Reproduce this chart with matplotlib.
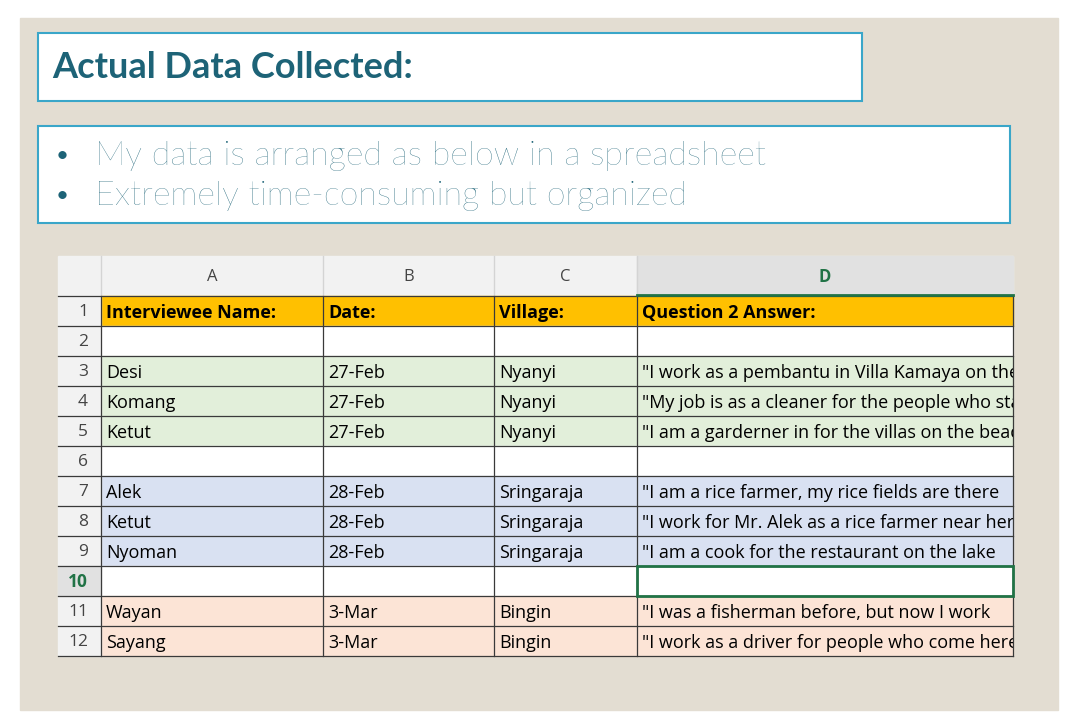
import matplotlib
matplotlib.use('Agg')
import matplotlib.pyplot as plt
from matplotlib.patches import Rectangle

# ----------------------------------------------------------------
# Data
# ----------------------------------------------------------------
col_letters = ['A', 'B', 'C', 'D']
headers = ['Interviewee Name:', 'Date:', 'Village:', 'Question 2 Answer:']
names = ['', 'Desi', 'Komang', 'Ketut', '', 'Alek', 'Ketut', 'Nyoman', '', 'Wayan', 'Sayang']
dates = ['', '27-Feb', '27-Feb', '27-Feb', '', '28-Feb', '28-Feb', '28-Feb', '', '3-Mar', '3-Mar']
villages = ['', 'Nyanyi', 'Nyanyi', 'Nyanyi', '', 'Sringaraja', 'Sringaraja', 'Sringaraja',
            '', 'Bingin', 'Bingin']
answers = ['',
           '"I work as a pembantu in Villa Kamaya on the coast',
           '"My job is as a cleaner for the people who stay',
           '"I am a garderner in for the villas on the beach',
           '',
           '"I am a rice farmer, my rice fields are there',
           '"I work for Mr. Alek as a rice farmer near here',
           '"I am a cook for the restaurant on the lake',
           '',
           '"I was a fisherman before, but now I work',
           '"I work as a driver for people who come here']
groups = ['', 'g', 'g', 'g', '', 'b', 'b', 'b', '', 'p', 'p']
bullets = ['My data is arranged as below in a spreadsheet',
           'Extremely time-consuming but organized']

fills = {'g': '#E2EFDA', 'b': '#D9E1F2', 'p': '#FCE4D6', '': 'white'}
col_x = [58, 101, 323, 494, 637, 1013]
row_top, row_h, head_top = 296, 30, 256

fig = plt.figure(figsize=(10.8, 7.28), dpi=100)
ax = fig.add_axes([0, 0, 1, 1])
ax.set_xlim(0, 1080)
ax.set_ylim(728, 0)
ax.axis('off')

ax.add_patch(Rectangle((20, 18), 1038, 692, color='#E3DDD2', zorder=0))

# title + bullet boxes
ax.add_patch(Rectangle((38, 33), 824, 68, fc='white', ec='#3AA6C9', lw=1.5))
ax.text(52, 68, 'Actual Data Collected:', fontsize=26, fontweight='bold',
        family='Lato', color='#1D6377', va='center')
ax.add_patch(Rectangle((38, 126), 972, 97, fc='white', ec='#3AA6C9', lw=1.5))
for i, b in enumerate(bullets):
    y = 156 + i * 40
    ax.text(56, y, '•', fontsize=16, color='#1D6377', va='center', family='Lato')
    ax.text(95, y, b, fontsize=24.5, color='#1D6377', va='center', family='Lato',
            fontweight='light')

# sheet header
ax.add_patch(Rectangle((58, head_top), 955, 40, color='#F2F2F2', zorder=1))
ax.add_patch(Rectangle((637, head_top), 376, 40, color='#E1E1E1', zorder=1))
ax.plot([637, 1013], [294.5, 294.5], color='#217346', lw=2, zorder=3)
for j, c in enumerate(col_letters):
    xc = (col_x[j + 1] + col_x[j + 2]) / 2
    ax.text(xc, 277, c, ha='center', va='center', fontsize=12, family='Open Sans',
            color='#217346' if c == 'D' else '#444444',
            fontweight='bold' if c == 'D' else 'normal', zorder=4)
for x in col_x[1:-1]:
    ax.plot([x, x], [head_top, head_top + 40], color='#D4D4D4', lw=1, zorder=2)

clip = Rectangle((637, 290), 376, 400, transform=ax.transData)

rows = [headers] + [[names[i], dates[i], villages[i], answers[i]] for i in range(len(names))]
row_fill = ['#FFC000'] + [fills[g] for g in groups]
for r, vals in enumerate(rows):
    y = row_top + r * row_h
    ax.add_patch(Rectangle((101, y), 912, row_h, color=row_fill[r], zorder=1))
    ax.add_patch(Rectangle((58, y), 43, row_h, color='#F2F2F2', zorder=1))
    ax.text(88, y + row_h / 2 + 1, str(r + 1), ha='right', va='center', fontsize=12.5,
            family='Open Sans', color='#217346' if r + 1 == 10 else '#444444',
            fontweight='bold' if r + 1 == 10 else 'normal', zorder=4)
    for j, v in enumerate(vals):
        t = ax.text(col_x[j + 1] + 5, y + row_h / 2 + 2, v, va='center', fontsize=13,
                    family='Open Sans', fontweight='bold' if r == 0 else 'normal',
                    color='black', zorder=4)
        if j == 3:
            t.set_clip_on(True)
            t.set_clip_path(clip)
    ax.plot([58, 1013], [y + row_h, y + row_h], color='#3A3A3A', lw=0.9, zorder=2)

# grid lines
bottom = row_top + len(rows) * row_h
ax.plot([58, 1013], [row_top, row_top], color='#3A3A3A', lw=0.9, zorder=2)
for x in col_x[1:]:
    ax.plot([x, x], [row_top, bottom], color='#3A3A3A', lw=0.9, zorder=2)
# selected cell D10
ax.add_patch(Rectangle((637, row_top + 9 * row_h), 376, row_h, fill=False,
                       ec='#217346', lw=2, zorder=5))
ax.add_patch(Rectangle((58, row_top + 9 * row_h), 43, row_h, color='#E1E1E1', zorder=1))

fig.savefig('out.png', dpi=100)
